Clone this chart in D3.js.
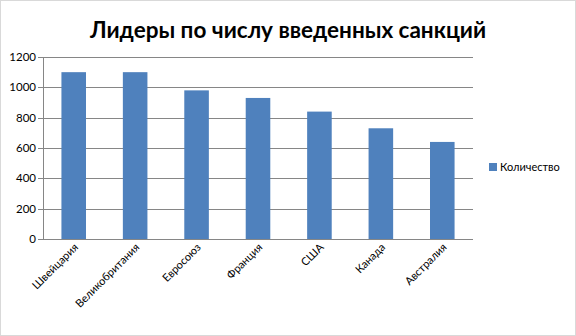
<!DOCTYPE html>
<html><head><meta charset="utf-8">
<script src="https://cdn.jsdelivr.net/npm/d3@7"></script>
<style>html,body{margin:0;padding:0;background:#fff}svg{display:block}</style>
</head><body>
<script>
const categories = ["Швейцария","Великобритания","Евросоюз","Франция","США","Канада","Австралия"];
const values = [1100, 1100, 980, 930, 840, 730, 640];
const yTicks = [0, 200, 400, 600, 800, 1000, 1200];
const seriesName = "Количество";
const title = "Лидеры по числу введенных санкций";

const W = 576, H = 336;
const m = {left: 43, right: 103, top: 57, bottom: 97};
const svg = d3.select("body").append("svg").attr("width", W).attr("height", H);
svg.append("rect").attr("x",0.5).attr("y",0.5).attr("width",W-1).attr("height",H-1)
  .attr("fill","#fff").attr("stroke","#d9d9d9");

const x = d3.scaleBand().domain(categories).range([m.left, W - m.right]).paddingInner(0.6).paddingOuter(0.3);
const y = d3.scaleLinear().domain([0, 1200]).range([H - m.bottom, m.top]);

const font = "Lato, 'Liberation Sans', sans-serif";

// gridlines
svg.append("g").selectAll("line").data(yTicks).join("line")
  .attr("x1", m.left - 5).attr("x2", W - m.right)
  .attr("y1", d => Math.round(y(d)) + 0.5).attr("y2", d => Math.round(y(d)) + 0.5)
  .attr("stroke", "#868686").attr("stroke-width", 1);

// y axis line
svg.append("line").attr("x1", m.left + 0.5).attr("x2", m.left + 0.5)
  .attr("y1", y(1200)).attr("y2", y(0)).attr("stroke", "#868686");

// y labels
svg.append("g").selectAll("text").data(yTicks).join("text")
  .attr("x", m.left - 7).attr("y", d => y(d)).attr("dy", "0.35em")
  .attr("text-anchor", "end").attr("font-family", font).attr("font-size", 11.5)
  .attr("fill", "#000").text(d => d);

// bars
svg.append("g").selectAll("rect").data(values).join("rect")
  .attr("x", (d, i) => x(categories[i])).attr("width", x.bandwidth())
  .attr("y", d => y(d)).attr("height", d => y(0) - y(d))
  .attr("fill", "#4f81bd");

// x labels
svg.append("g").selectAll("text").data(categories).join("text")
  .attr("transform", d => `translate(${x(d) + x.bandwidth()/2 + 5},${y(0) + 9}) rotate(-45)`)
  .attr("text-anchor", "end").attr("font-family", font).attr("font-size", 11)
  .attr("fill", "#000").text(d => d);

// title
svg.append("text").attr("x", 288).attr("y", 38).attr("text-anchor", "middle")
  .attr("font-family", font).attr("font-weight", "bold").attr("font-size", 22.5)
  .attr("fill", "#000").text(title);

// legend
svg.append("rect").attr("x", 489).attr("y", 163).attr("width", 8).attr("height", 8).attr("fill", "#4f81bd");
svg.append("text").attr("x", 500).attr("y", 167).attr("dy", "0.35em")
  .attr("font-family", font).attr("font-size", 11).attr("fill", "#000").text(seriesName);
</script>
</body></html>
